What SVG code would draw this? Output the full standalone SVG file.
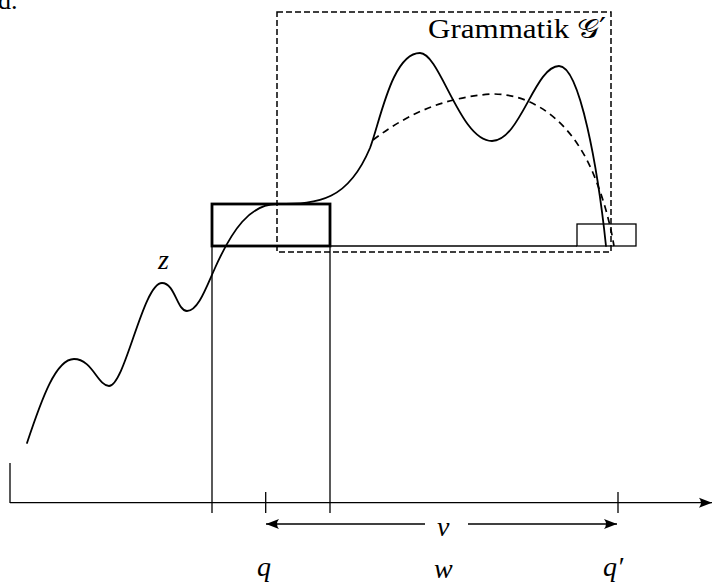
<svg xmlns="http://www.w3.org/2000/svg" width="713" height="585" viewBox="0 0 713 585">
<style>
.thin{fill:none;stroke:#000;stroke-width:1.3}
.curve{fill:none;stroke:#000;stroke-width:1.8;stroke-linecap:round}
.dash{fill:none;stroke:#000;stroke-width:1.5;stroke-dasharray:6 3}
.dcurve{fill:none;stroke:#000;stroke-width:1.7;stroke-dasharray:7 5}
.thick{fill:none;stroke:#000;stroke-width:2.8}
.lbl{font-family:"Liberation Serif",serif;font-size:27px;fill:#000}
.math{font-family:"Liberation Serif",serif;font-style:italic;font-size:28px;fill:#000}
</style>
<defs>
<marker id="ah" markerUnits="userSpaceOnUse" markerWidth="16" markerHeight="12" viewBox="-14 -6 16 12" refX="0" refY="0" orient="auto-start-reverse">
<path d="M0,0 L-13,-5 Q-9,0 -13,5 Z" fill="#000"/>
</marker>
</defs>
<text class="lbl" x="-2" y="9" style="font-size:26px">d.</text>
<g id="grammar">
<rect class="dash" x="277" y="12" width="334" height="240"/>
<text class="lbl" x="428" y="38" textLength="178" lengthAdjust="spacingAndGlyphs">Grammatik <tspan font-family="DejaVu Serif, DejaVu Sans, serif">𝒢′</tspan></text>
</g>
<g id="window">
<rect class="thick" x="212" y="204" width="118" height="42"/>
</g>
<g id="small">
<rect class="thin" x="577" y="224" width="59" height="22"/>
</g>
<g id="connectors">
<line class="thin" x1="330" y1="246" x2="577" y2="246"/>
<line class="thin" x1="212" y1="246" x2="212" y2="513"/>
<line class="thin" x1="330" y1="246" x2="330" y2="513"/>
<line class="thin" x1="10" y1="463" x2="10" y2="503"/>
<line class="thin" x1="10" y1="502.7" x2="712" y2="502.7" marker-end="url(#ah)"/>
<line class="thin" x1="265.7" y1="492" x2="265.7" y2="513"/>
<line class="thin" x1="618" y1="492" x2="618" y2="513"/>
<line class="thin" x1="425" y1="524" x2="266" y2="524" marker-end="url(#ah)"/>
<line class="thin" x1="468" y1="524" x2="617" y2="524" marker-end="url(#ah)"/>
</g>
<g id="curves">
<path class="curve" d="M27,443 C42,398 56,359 74,359 C92,359 98,386 109,386 C125,386 143,283 162,283 C175,283 177,311 187,311 C198,311 206,288 215,268 C232,230 250,204 277,204 C320,204 348,200 370,148 C380,122 392,53 420,53 C440,53 460,141 492,141 C520,141 535,66 559,66 C580,66 598,170 606,246"/>
<path class="dcurve" d="M373,140 C410,112 445,98 490,94 C540,93 575,130 593,173 C603,197 610,222 614,246"/>
</g>
<text class="math" x="158" y="269">z</text>
<text class="math" x="437" y="536">v</text>
<text class="math" x="257" y="576">q</text>
<text class="math" x="434" y="578">w</text>
<text class="math" x="603" y="576">q′</text>
</svg>
